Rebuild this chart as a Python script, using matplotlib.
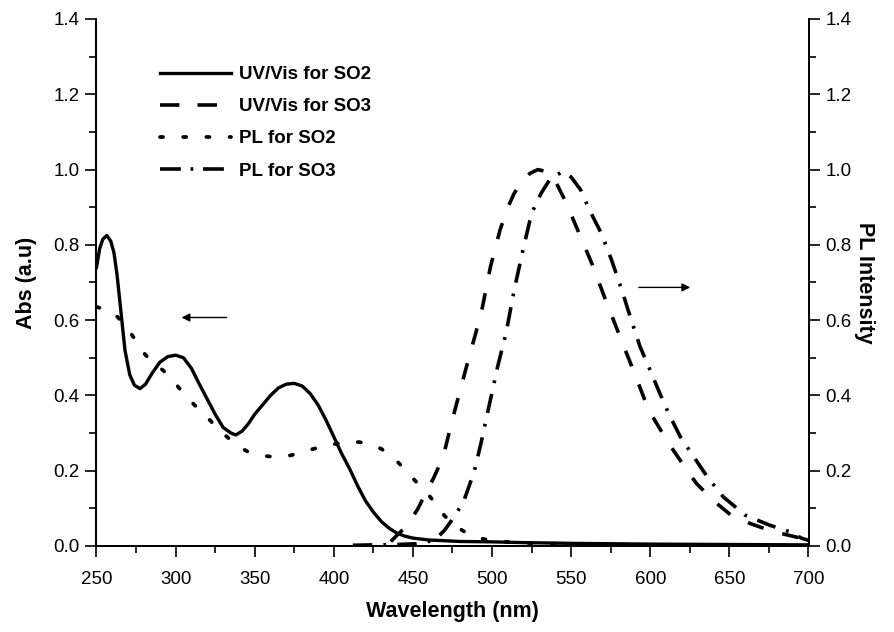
import matplotlib
matplotlib.use("Agg")
import matplotlib.pyplot as plt
from matplotlib.lines import Line2D
from matplotlib.ticker import MultipleLocator

plt.rcParams['font.family'] = ['Liberation Sans', 'DejaVu Sans']
plt.rcParams['lines.scale_dashes'] = False

# UV/Vis for SO2 (solid)
uv_so2_x = [250, 252, 254, 256.5, 259, 261, 263, 265, 268, 271, 274, 277.5, 281, 285, 290,
            295, 300, 305, 310, 315, 320, 325, 330, 335, 338, 342, 346, 350, 355, 360, 365,
            370, 375, 380, 385, 390, 395, 400, 405, 410, 415, 420, 425, 430, 435, 440, 445,
            450, 460, 470, 480, 500, 520, 550, 600, 650, 700]
uv_so2_y = [0.74, 0.79, 0.815, 0.825, 0.81, 0.78, 0.72, 0.64, 0.52, 0.455, 0.427, 0.418, 0.43,
            0.458, 0.488, 0.503, 0.507, 0.50, 0.472, 0.43, 0.39, 0.35, 0.315, 0.30, 0.295,
            0.305, 0.325, 0.35, 0.375, 0.40, 0.42, 0.43, 0.432, 0.425, 0.405, 0.375, 0.335,
            0.29, 0.245, 0.205, 0.16, 0.12, 0.09, 0.065, 0.047, 0.034, 0.026, 0.021, 0.016,
            0.014, 0.012, 0.011, 0.009, 0.007, 0.005, 0.004, 0.003]

# PL for SO2 (dotted)
pl_so2_x = [250, 256, 262, 267, 272, 277, 281, 287, 293, 299, 304, 310, 316, 322, 327, 333,
            339, 345, 352, 359, 366, 373, 381, 388, 394, 402, 409, 416, 423, 430, 437, 443,
            449, 454, 459, 465, 470, 478, 486, 495, 505, 520, 550, 600, 650, 700]
pl_so2_y = [0.635, 0.628, 0.614, 0.592, 0.563, 0.533, 0.507, 0.485, 0.463, 0.437, 0.41, 0.383,
            0.357, 0.333, 0.31, 0.288, 0.266, 0.252, 0.242, 0.238, 0.237, 0.241, 0.251, 0.259,
            0.266, 0.272, 0.277, 0.276, 0.271, 0.258, 0.237, 0.212, 0.184, 0.162, 0.14, 0.11,
            0.08, 0.05, 0.029, 0.018, 0.012, 0.008, 0.005, 0.003, 0.002, 0.001]

# UV/Vis for SO3 (dashed)
uv_so3_x = [436, 440, 444, 448, 453, 458, 463, 469, 475, 481, 486, 490, 494, 499, 505, 510,
            514, 519, 524, 529, 534, 539, 546, 555, 563, 571, 580, 590, 599, 607, 613, 621,
            629, 640, 651, 663, 675, 686, 696, 700]
uv_so3_y = [0.012, 0.029, 0.045, 0.065, 0.098, 0.14, 0.18, 0.235, 0.337, 0.432, 0.51, 0.57,
            0.636, 0.742, 0.839, 0.9, 0.937, 0.97, 0.99, 1.0, 0.995, 0.978, 0.919, 0.831,
            0.751, 0.662, 0.565, 0.459, 0.361, 0.305, 0.264, 0.215, 0.167, 0.12, 0.082, 0.06,
            0.042, 0.03, 0.02, 0.016]

# PL for SO3 (dash-dot)
pl_so3_x = [412, 425, 440, 452, 461, 466, 470, 475.5, 482, 486, 489, 493, 498, 503.5, 509,
            514, 519.5, 525, 531, 537, 545, 550, 556, 561.5, 569, 575.5, 582, 588, 593.5, 599,
            606, 611.5, 619, 626, 636, 646, 660, 675, 688, 696, 700]
pl_so3_y = [0.002, 0.003, 0.004, 0.006, 0.013, 0.025, 0.042, 0.074, 0.118, 0.165, 0.202, 0.273,
            0.37, 0.476, 0.569, 0.68, 0.786, 0.884, 0.937, 0.977, 0.995, 0.98, 0.946, 0.893,
            0.831, 0.76, 0.68, 0.6, 0.53, 0.476, 0.406, 0.353, 0.29, 0.246, 0.184, 0.131, 0.082,
            0.056, 0.038, 0.02, 0.015]

labels = ['UV/Vis for SO2', 'UV/Vis for SO3', 'PL for SO2', 'PL for SO3']

fig = plt.figure(figsize=(8.95, 6.32), dpi=100)
ax = fig.add_axes([96.5 / 895, 86 / 632, 712 / 895, 527 / 632])
ax2 = ax.twinx()

lw = 2.4
ax.plot(uv_so2_x, uv_so2_y, color='black', lw=lw, solid_joinstyle='round')
ax2.plot(pl_so2_x, pl_so2_y, color='black', lw=2.7, linestyle=(0, (2.2, 14.5)),
         dash_capstyle='round')
ax2.plot(uv_so3_x, uv_so3_y, color='black', lw=2.6, linestyle=(0, (12, 14)))
ax2.plot(pl_so3_x, pl_so3_y, color='black', lw=2.6, linestyle=(0, (14, 8, 2, 8)))

for a in (ax, ax2):
    a.set_xlim(250, 700)
    a.set_ylim(0, 1.4)
    a.yaxis.set_major_locator(MultipleLocator(0.2))
    a.yaxis.set_minor_locator(MultipleLocator(0.1))
    a.tick_params(which='major', direction='out', length=8, width=1.2, labelsize=13.5, pad=4)
    a.tick_params(which='minor', direction='out', length=5, width=1.2)
    a.spines['top'].set_visible(False)
    for s in a.spines.values():
        s.set_linewidth(1.3)

ax.xaxis.set_major_locator(MultipleLocator(50))
ax.xaxis.set_minor_locator(MultipleLocator(25))
ax.tick_params(axis='x', which='major', pad=10)
ax.yaxis.set_major_formatter(plt.FormatStrFormatter('%.1f'))
ax2.yaxis.set_major_formatter(plt.FormatStrFormatter('%.1f'))

ax.set_xlabel('Wavelength (nm)', fontsize=15.5, fontweight='bold', labelpad=9)
ax.set_ylabel('Abs (a.u)', fontsize=15.5, fontweight='bold', labelpad=12)
ax2.set_ylabel('PL Intensity', fontsize=15.5, fontweight='bold', rotation=-90, labelpad=17)

# arrows pointing to each axis
ax.annotate('', xy=(302, 0.607), xytext=(334, 0.607),
            arrowprops=dict(arrowstyle='-|>', color='black', lw=1.0, mutation_scale=12))
ax.annotate('', xy=(627, 0.687), xytext=(591, 0.687),
            arrowprops=dict(arrowstyle='-|>', color='black', lw=1.0, mutation_scale=12))

handles = [
    Line2D([], [], color='black', lw=lw),
    Line2D([], [], color='black', lw=2.6, linestyle=(0, (14, 13))),
    Line2D([], [], color='black', lw=2.7, linestyle=(0, (2.2, 14.5)), dash_capstyle='round'),
    Line2D([], [], color='black', lw=2.6, linestyle=(0, (15, 7, 2, 7))),
]
fig.legend(handles, labels, loc='upper left', bbox_to_anchor=(160 / 895, 1 - 66 / 632),
           frameon=False, borderpad=0, borderaxespad=0, handlelength=3.8,
           handletextpad=0.4, labelspacing=0.8,
           prop={'weight': 'bold', 'size': 13.5})

fig.savefig('out.png', dpi=100)
